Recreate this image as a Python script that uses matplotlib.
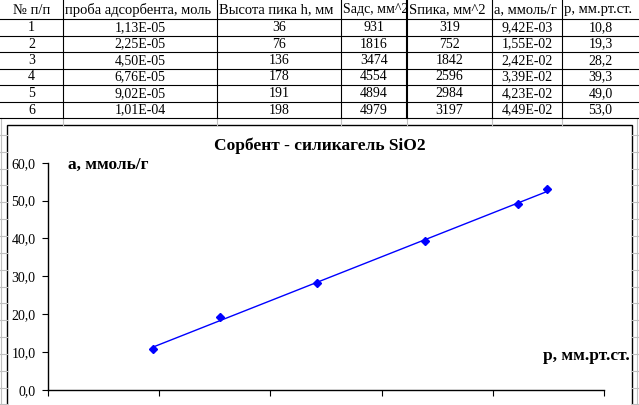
import matplotlib
matplotlib.use('Agg')
import matplotlib.pyplot as plt
from matplotlib.patches import Rectangle
import numpy as np


W, H = 639, 405
SERIF = 'Liberation Serif'

# table data
row_numbers = ['1', '2', '3', '4', '5', '6']
sample_mol = ['1,13E-05', '2,25E-05', '4,50E-05', '6,76E-05', '9,02E-05', '1,01E-04']
peak_height = [36, 76, 136, 178, 191, 198]
area_ads = [931, 1816, 3474, 4554, 4894, 4979]
area_peak = [319, 752, 1842, 2596, 2984, 3197]
a_mmol = [9.42e-3, 1.55e-2, 2.42e-2, 3.39e-2, 4.23e-2, 4.49e-2]
p_mm = [10.8, 19.3, 28.2, 39.3, 49.0, 53.0]
headers = ['№ п/п', 'проба адсорбента, моль', 'Высота пика h, мм', 'Sадс, мм^2',
           'Sпика, мм^2', 'а, ммоль/г', 'р, мм.рт.ст.']

col_edges = [0, 63, 217, 341, 407, 492, 562, 639]
row_edges = [0, 19, 36, 52, 69, 85, 102, 118]
# the narrow Sадс cell needs a slightly smaller font to fit like in excel
header_sizes = [10.5, 10.5, 10.5, 10, 10.5, 10.5, 10.5]


def excel_sci(v):
    mant, exp = f'{v:.2E}'.split('E')
    return f'{mant.replace(".", ",")}E{exp}'


def draw_sheet(bg):
    bg.set_xlim(0, W)
    bg.set_ylim(H, 0)
    bg.axis('off')

    # spreadsheet gridlines around the chart
    grey = '#c0c0c0'
    y = 118 + 16.85
    while y < H:
        bg.plot([0, 7], [y, y], color=grey, lw=0.8)
        bg.plot([632, W], [y, y], color=grey, lw=0.8)
        y += 16.85
    bg.plot([1, 1], [118, H], color=grey, lw=0.8)
    bg.plot([637, 637], [118, H], color=grey, lw=0.8)
    for x in col_edges[1:-1]:
        bg.plot([x, x], [118, 125], color=grey, lw=0.8)

    # table lines
    for y in row_edges[1:]:
        bg.plot([0, W], [y, y], color='black', lw=0.8)
    for x in col_edges[1:-1]:
        bg.plot([x, x], [0, 118], color='black', lw=1.5 if x == 407 else 0.8)

    # header, clipped to its own cell like in excel
    for i, h in enumerate(headers):
        if i == 0:
            bg.text((col_edges[0] + col_edges[1]) / 2, 10, h, ha='center', va='center',
                    family=SERIF, fontsize=header_sizes[i])
        else:
            t = bg.text(col_edges[i] + 2, 10, h, ha='left', va='center',
                        family=SERIF, fontsize=header_sizes[i])
            cell = Rectangle((col_edges[i], 0), col_edges[i + 1] - col_edges[i] - 1, 19,
                             transform=bg.transData)
            t.set_clip_path(cell)

    cols = [row_numbers, sample_mol, [str(v) for v in peak_height], [str(v) for v in area_ads],
            [str(v) for v in area_peak], [excel_sci(v) for v in a_mmol],
            [f'{v:.1f}'.replace('.', ',') for v in p_mm]]
    for r in range(6):
        yc = (row_edges[r + 1] + row_edges[r + 2]) / 2
        for c, values in enumerate(cols):
            xc = (col_edges[c] + col_edges[c + 1]) / 2
            bg.text(xc, yc, values[r], ha='center', va='center', family=SERIF, fontsize=10)

    # chart frame
    bg.add_patch(Rectangle((7, 125), 625, 300, facecolor='white', edgecolor='black', lw=1.0))

    bg.text(320, 146, 'Сорбент - силикагель SiO2', ha='center', va='center',
            family=SERIF, fontsize=12.5, weight='bold')
    bg.text(68, 165, 'а, ммоль/г', ha='left', va='center',
            family=SERIF, fontsize=12.5, weight='bold')
    bg.text(630, 356, 'р, мм.рт.ст.', ha='right', va='center',
            family=SERIF, fontsize=12.5, weight='bold')


def draw_chart(ax):
    ax.patch.set_alpha(0)
    ax.plot(a_mmol, p_mm, 'D', color='#0000ff', ms=4.5, zorder=3)

    # linear trendline through the points
    k, b = np.polyfit(a_mmol, p_mm, 1)
    xs = np.array([min(a_mmol), max(a_mmol)])
    ax.plot(xs, k * xs + b, color='#0000ff', lw=1.0)

    ax.set_xlim(0, 0.05)
    ax.set_ylim(0, 60)
    ax.set_xticks(np.arange(0, 0.051, 0.01))
    ax.set_xticklabels([])
    ax.set_yticks(np.arange(0, 61, 10))
    ax.set_yticklabels([f'{v:.1f}'.replace('.', ',') for v in np.arange(0, 61, 10)],
                       family=SERIF, fontsize=10)
    ax.tick_params(direction='out', length=4, width=0.8, pad=5)
    for side in ['top', 'right']:
        ax.spines[side].set_visible(False)
    for side in ['left', 'bottom']:
        ax.spines[side].set_linewidth(1.0)


def main():
    fig = plt.figure(figsize=(W / 100, H / 100), dpi=100)
    bg = fig.add_axes([0, 0, 1, 1])
    draw_sheet(bg)

    ax = fig.add_axes([48 / W, (H - 390) / H, 556 / W, 227.3 / H])
    draw_chart(ax)

    fig.savefig('out.png', dpi=100)


if __name__ == '__main__':
    main()
